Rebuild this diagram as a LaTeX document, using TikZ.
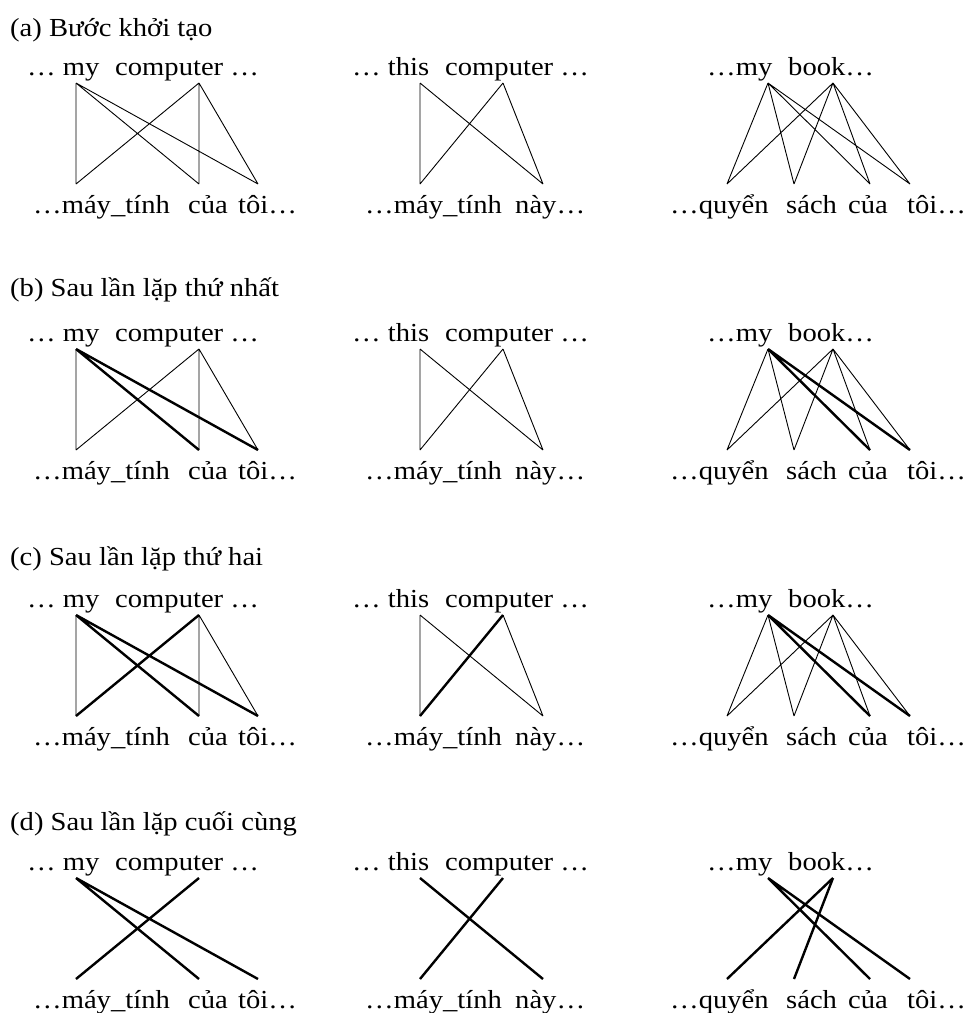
\documentclass[tikz,border=0pt]{standalone}
\usepackage{fontspec}
\setmainfont{Liberation Serif}[FakeStretch=1.1]
\tikzset{
  word/.style={anchor=base west, inner sep=0pt, font=\fontsize{26}{30}\selectfont},
  thinlink/.style={line width=0.9pt},
  thicklink/.style={line width=2.4pt},
}
% words and end points of one panel, prefix #1
\newcommand\panelwords[1]{%
  % left group
  \node[word] (#1-l1) at (27,75) {… my};
  \node[word] (#1-l2) at (115,75) {computer …};
  \node[word] (#1-l3) at (33,213) {…máy\_tính};
  \node[word] (#1-l4) at (188,213) {của};
  \node[word] (#1-l5) at (238,213) {tôi…};
  % middle group
  \node[word] (#1-m1) at (352,75) {… this};
  \node[word] (#1-m2) at (445,75) {computer …};
  \node[word] (#1-m3) at (365,213) {…máy\_tính};
  \node[word] (#1-m4) at (515,213) {này…};
  % right group
  \node[word] (#1-r1) at (707,75) {…my};
  \node[word] (#1-r2) at (788,75) {book…};
  \node[word] (#1-r3) at (670,213) {…quyển};
  \node[word] (#1-r4) at (786,213) {sách};
  \node[word] (#1-r5) at (848,213) {của};
  \node[word] (#1-r6) at (907,213) {tôi…};
  % end points
  \coordinate (#1-my) at (76,83);
  \coordinate (#1-comp) at (199,83);
  \coordinate (#1-may) at (76,184);
  \coordinate (#1-cua) at (199,184);
  \coordinate (#1-toi) at (258,184);
  \coordinate (#1-this) at (420,83);
  \coordinate (#1-compb) at (503,83);
  \coordinate (#1-mayb) at (420,184);
  \coordinate (#1-nay) at (543,184);
  \coordinate (#1-myc) at (768,83);
  \coordinate (#1-book) at (833,83);
  \coordinate (#1-quyen) at (727,184);
  \coordinate (#1-sach) at (794,184);
  \coordinate (#1-cuac) at (870,184);
  \coordinate (#1-toic) at (910,184);
}
\begin{document}
\begin{tikzpicture}[x=1pt,y=-1pt]
\useasboundingbox (0,0) rectangle (968,1013);

% ---------- (a)
\begin{scope}
  \node[word] (ta) at (10,36) {(a) Bước khởi tạo};
  \panelwords{a}
  \draw[thinlink] (a-my) -- (a-may) (a-my) -- (a-cua) (a-my) -- (a-toi)
    (a-comp) -- (a-may) (a-comp) -- (a-cua) (a-comp) -- (a-toi);
  \draw[thinlink] (a-this) -- (a-mayb) (a-this) -- (a-nay)
    (a-compb) -- (a-mayb) (a-compb) -- (a-nay);
  \draw[thinlink] (a-myc) -- (a-quyen) (a-myc) -- (a-sach) (a-myc) -- (a-cuac) (a-myc) -- (a-toic)
    (a-book) -- (a-quyen) (a-book) -- (a-sach) (a-book) -- (a-cuac) (a-book) -- (a-toic);
\end{scope}

% ---------- (b)
\begin{scope}[yshift=-266pt]
  \node[word] (tb) at (10,30) {(b) Sau lần lặp thứ nhất};
  \panelwords{b}
  \draw[thinlink] (b-my) -- (b-may)
    (b-comp) -- (b-may) (b-comp) -- (b-cua) (b-comp) -- (b-toi);
  \draw[thicklink] (b-my) -- (b-cua) (b-my) -- (b-toi);
  \draw[thinlink] (b-this) -- (b-mayb) (b-this) -- (b-nay)
    (b-compb) -- (b-mayb) (b-compb) -- (b-nay);
  \draw[thinlink] (b-myc) -- (b-quyen) (b-myc) -- (b-sach)
    (b-book) -- (b-quyen) (b-book) -- (b-sach) (b-book) -- (b-cuac) (b-book) -- (b-toic);
  \draw[thicklink] (b-myc) -- (b-cuac) (b-myc) -- (b-toic);
\end{scope}

% ---------- (c)
\begin{scope}[yshift=-532pt]
  \node[word] (tc) at (10,33) {(c) Sau lần lặp thứ hai};
  \panelwords{c}
  \draw[thinlink] (c-my) -- (c-may) (c-comp) -- (c-cua) (c-comp) -- (c-toi);
  \draw[thicklink] (c-my) -- (c-cua) (c-my) -- (c-toi) (c-comp) -- (c-may);
  \draw[thinlink] (c-this) -- (c-mayb) (c-this) -- (c-nay) (c-compb) -- (c-nay);
  \draw[thicklink] (c-compb) -- (c-mayb);
  \draw[thinlink] (c-myc) -- (c-quyen) (c-myc) -- (c-sach)
    (c-book) -- (c-quyen) (c-book) -- (c-sach) (c-book) -- (c-cuac) (c-book) -- (c-toic);
  \draw[thicklink] (c-myc) -- (c-cuac) (c-myc) -- (c-toic);
\end{scope}

% ---------- (d)
\begin{scope}[yshift=-795pt]
  \node[word] (td) at (10,35) {(d) Sau lần lặp cuối cùng};
  \panelwords{d}
  \draw[thicklink] (d-my) -- (d-cua) (d-my) -- (d-toi) (d-comp) -- (d-may);
  \draw[thicklink] (d-this) -- (d-nay) (d-compb) -- (d-mayb);
  \draw[thicklink] (d-myc) -- (d-cuac) (d-myc) -- (d-toic)
    (d-book) -- (d-quyen) (d-book) -- (d-sach);
\end{scope}
\end{tikzpicture}
\end{document}
